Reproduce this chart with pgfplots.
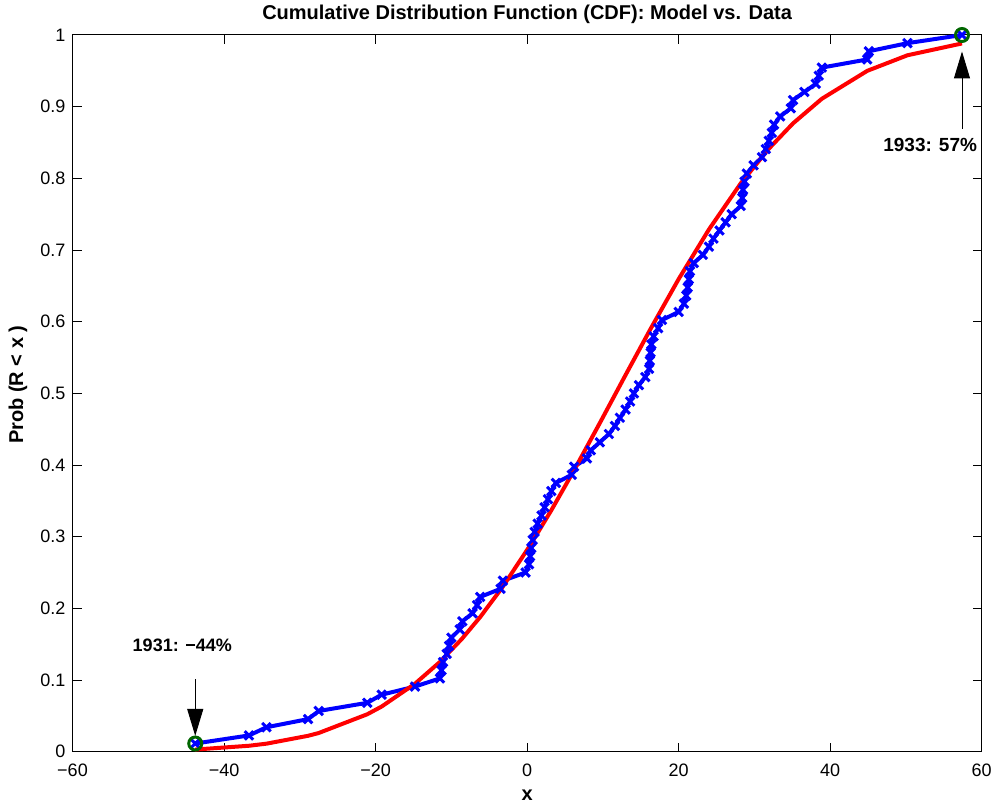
\documentclass[border=0pt]{standalone}
\usepackage{fontspec}
\setmainfont{Liberation Sans}
\usepackage{pgfplots}
\pgfplotsset{compat=1.18}
\usetikzlibrary{arrows.meta}

\definecolor{mgreen}{rgb}{0,0.4,0}

\begin{document}
\begin{tikzpicture}
\useasboundingbox (-36.25bp,-26.65bp) rectangle (461.25bp,375.85bp);
\begin{axis}[
    at={(0,0)}, anchor=south west,
    width=454.6bp, height=358.35bp, scale only axis,
    xmin=-60, xmax=60, ymin=0, ymax=1,
    xtick={-60,-40,-20,0,20,40,60},
    xticklabels={−60,−40,−20,0,20,40,60},
    ytick={0,0.1,0.2,0.3,0.4,0.5,0.6,0.7,0.8,0.9,1},
    yticklabels={0,0.1,0.2,0.3,0.4,0.5,0.6,0.7,0.8,0.9,1},
    tick align=inside, major tick length=4.5bp,
    axis line style={line width=0.5bp},
    every tick/.style={black, line width=0.5bp},
    tick label style={font=\fontsize{9bp}{11bp}\selectfont},
    xticklabel style={yshift=-2.8bp},
    title={Cumulative Distribution Function (CDF): Model vs. Data},
    every axis title/.style={font=\bfseries\fontsize{10bp}{12bp}\selectfont,
        at={(axis description cs:0.5,1)}, anchor=base, yshift=7.85bp},
    xlabel={x},
    xlabel style={font=\bfseries\fontsize{10bp}{12bp}\selectfont,
        at={(axis description cs:0.5,0)}, anchor=base, yshift=-24.5bp},
    ylabel={Prob (R < x )},
    ylabel style={font=\bfseries\fontsize{10bp}{12bp}\selectfont,
        at={(axis description cs:-0.06,0.512)}, anchor=center},
    clip=false,
]

% empirical CDF (88 sorted annual returns)
\addplot[blue, line width=2bp, mark=x, mark size=3bp,
    mark options={line width=1.5bp, solid}] coordinates {
(-43.8,0.0114) (-36.7,0.0227) (-34.4,0.0341) (-28.9,0.0455) (-27.5,0.0568)
(-21.1,0.0682) (-19.2,0.0795) (-14.8,0.0909) (-11.5,0.1023) (-11.3,0.1136)
(-11.1,0.1250) (-10.6,0.1364) (-10.3,0.1477) (-10.0,0.1591) (-8.9,0.1705)
(-8.55,0.1818) (-7.2,0.1932) (-6.6,0.2045) (-6.2,0.2159) (-3.5,0.2273)
(-3.2,0.2386) (-0.2,0.2500) (0.25,0.2614) (0.4,0.2727) (0.55,0.2841)
(0.75,0.2955) (1.0,0.3068) (1.4,0.3182) (1.9,0.3295) (2.3,0.3409)
(2.75,0.3523) (3.2,0.3636) (3.8,0.3750) (5.9,0.3864) (6.2,0.3977)
(7.9,0.4091) (8.4,0.4205) (9.6,0.4318) (10.8,0.4432) (11.6,0.4545)
(12.25,0.4659) (13.0,0.4773) (13.6,0.4886) (14.1,0.5000) (14.75,0.5114)
(15.6,0.5227) (16.1,0.5341) (16.2,0.5455) (16.3,0.5568) (16.4,0.5682)
(16.7,0.5795) (17.3,0.5909) (17.8,0.6023) (20.0,0.6136) (20.7,0.6250)
(21.0,0.6364) (21.2,0.6477) (21.35,0.6591) (21.5,0.6705) (22.0,0.6818)
(23.2,0.6932) (24.0,0.7045) (24.6,0.7159) (25.4,0.7273) (26.2,0.7386)
(27.0,0.7500) (28.2,0.7614) (28.4,0.7727) (28.5,0.7841) (28.7,0.7955)
(29.0,0.8068) (29.9,0.8182) (31.0,0.8295) (31.5,0.8409) (31.9,0.8523)
(32.3,0.8636) (32.6,0.8750) (33.4,0.8864) (34.8,0.8977) (35.1,0.9091)
(36.6,0.9205) (38.1,0.9318) (38.5,0.9432) (38.9,0.9545) (44.9,0.9659)
(45.1,0.9773) (50.2,0.9886) (57.4,1.0000)
};

% fitted model CDF
\addplot[red, line width=2bp] coordinates {
(-43.8,0.0030) (-36.7,0.0083) (-34.4,0.0112) (-28.9,0.0222) (-27.5,0.0261)
(-21.1,0.0522) (-19.2,0.0630) (-14.8,0.0948) (-11.5,0.1253) (-8.6,0.1575)
(-6.2,0.1878) (-3.3,0.2288) (0.3,0.2863) (3.2,0.3369) (6.1,0.3908)
(9.6,0.4586) (13.0,0.5257) (16.3,0.5900) (20.0,0.6594) (24.0,0.7287)
(28.2,0.7930) (31.9,0.8413) (35.1,0.8767) (38.9,0.9110) (44.9,0.9500)
(50.2,0.9717) (57.4,0.9882)
};

% extreme years
\addplot[only marks, mgreen, mark=o, mark size=3.25bp,
    mark options={line width=1.5bp}] coordinates {(-43.8,0.0114) (57.4,1)};

\draw[-{Triangle[length=13.5bp,width=8bp]}, line width=0.5bp]
    (axis cs:-43.8,0.101) -- (axis cs:-43.8,0.022);
\draw[-{Triangle[length=13.5bp,width=8bp]}, line width=0.5bp]
    (axis cs:57.4,0.869) -- (axis cs:57.4,0.977);
\node[font=\bfseries\fontsize{9bp}{11bp}\selectfont, anchor=center]
    at (axis cs:-45.5,0.149) {1931: −44\%};
\node[font=\bfseries\fontsize{9.5bp}{11bp}\selectfont, anchor=center]
    at (axis cs:53.2,0.846) {1933: 57\%};
\end{axis}
\end{tikzpicture}
\end{document}
